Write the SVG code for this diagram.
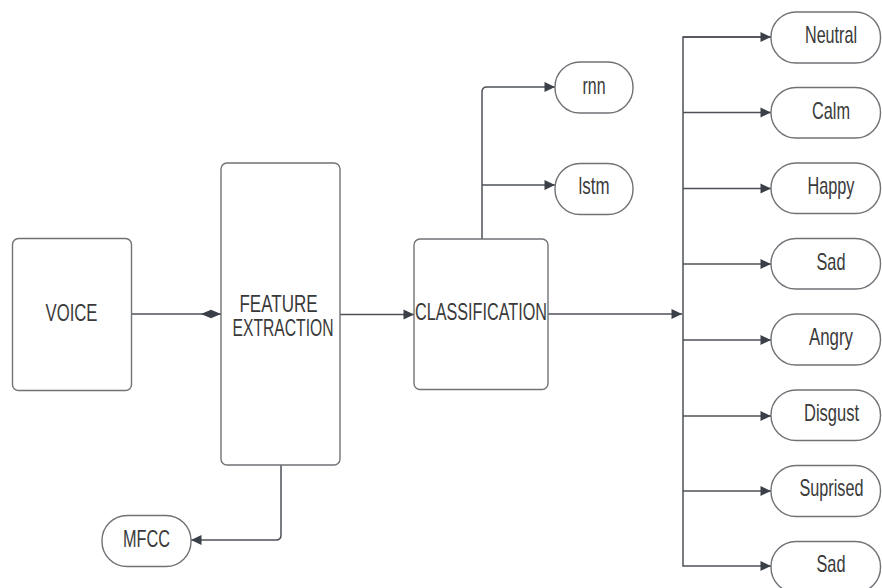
<svg xmlns="http://www.w3.org/2000/svg" width="882" height="588" viewBox="0 0 882 588">
  <defs>
    <marker id="arrow" markerUnits="userSpaceOnUse" markerWidth="13" markerHeight="13" viewBox="0 0 13 13" refX="12" refY="6.5" orient="auto">
      <path d="M1.5,1.5 L12,6.5 L1.5,11.5 Z" fill="#3b4048"/>
    </marker>
    <marker id="diamond" markerUnits="userSpaceOnUse" markerWidth="22" markerHeight="12" viewBox="0 0 22 12" refX="21" refY="6" orient="auto">
      <path d="M1,6 L11,1.8 L21,6 L11,10.2 Z" fill="#3b4048"/>
    </marker>
    <style>
      .box { fill: #ffffff; stroke: #6f7276; stroke-width: 1.4; }
      .pill { fill: #ffffff; stroke: #6f7276; stroke-width: 1.4; }
      .lbl { font-family: "Liberation Sans", Arial, sans-serif; font-size: 24px; fill: #3a3a3a; text-anchor: middle; }
      .wire { fill: none; stroke: #4d5157; stroke-width: 1.5; }
    </style>
  </defs>
  <rect width="882" height="588" fill="#ffffff"/>

  <!-- connectors -->
  <g id="connectors">
    <path class="wire" d="M131,314 H221" marker-end="url(#diamond)"/>
    <path class="wire" d="M340,314.5 H414" marker-end="url(#arrow)"/>
    <path class="wire" d="M482,239 V92 Q482,87 487,87 H555" marker-end="url(#arrow)"/>
    <path class="wire" d="M482,185 H555" marker-end="url(#arrow)"/>
    <path class="wire" d="M548,314 H682" marker-end="url(#arrow)"/>
    <path class="wire" d="M771,37 H683 V566 H771" marker-end="url(#arrow)"/>
    <path class="wire" d="M683,37 H771" marker-end="url(#arrow)"/>
    <path class="wire" d="M683,112.5 H771" marker-end="url(#arrow)"/>
    <path class="wire" d="M683,188.5 H771" marker-end="url(#arrow)"/>
    <path class="wire" d="M683,264 H771" marker-end="url(#arrow)"/>
    <path class="wire" d="M683,340 H771" marker-end="url(#arrow)"/>
    <path class="wire" d="M683,416 H771" marker-end="url(#arrow)"/>
    <path class="wire" d="M683,491 H771" marker-end="url(#arrow)"/>
    <path class="wire" d="M281,465 V535 Q281,540 276,540 H191" marker-end="url(#arrow)"/>
  </g>

  <g id="voice">
    <rect class="box" x="12.5" y="238.5" width="119" height="152" rx="6"/>
    <text class="lbl" x="71.5" y="321" textLength="52" lengthAdjust="spacingAndGlyphs">VOICE</text>
  </g>

  <g id="feature-extraction">
    <rect class="box" x="221" y="163" width="119" height="302" rx="6"/>
    <text class="lbl" x="278.5" y="311.5" textLength="78" lengthAdjust="spacingAndGlyphs">FEATURE</text>
    <text class="lbl" x="283" y="336" textLength="101" lengthAdjust="spacingAndGlyphs">EXTRACTION</text>
  </g>

  <g id="classification">
    <rect class="box" x="414" y="239" width="134" height="150.5" rx="6"/>
    <text class="lbl" x="481" y="320" textLength="132" lengthAdjust="spacingAndGlyphs">CLASSIFICATION</text>
  </g>

  <g id="rnn">
    <rect class="pill" x="555" y="62" width="78" height="51" rx="25"/>
    <text class="lbl" x="594" y="93.5" textLength="23" lengthAdjust="spacingAndGlyphs">rnn</text>
  </g>

  <g id="lstm">
    <rect class="pill" x="555" y="163.5" width="78" height="51" rx="25"/>
    <text class="lbl" x="594" y="193.5" textLength="31" lengthAdjust="spacingAndGlyphs">lstm</text>
  </g>

  <g id="mfcc">
    <rect class="pill" x="102" y="515.5" width="89" height="51" rx="25"/>
    <text class="lbl" x="146.5" y="547" textLength="47" lengthAdjust="spacingAndGlyphs">MFCC</text>
  </g>

  <g id="neutral">
    <rect class="pill" x="771" y="12" width="109.5" height="51" rx="25"/>
    <text class="lbl" x="831" y="42.5" textLength="52" lengthAdjust="spacingAndGlyphs">Neutral</text>
  </g>

  <g id="calm">
    <rect class="pill" x="771" y="87.5" width="109.5" height="50.5" rx="25"/>
    <text class="lbl" x="831" y="118.5" textLength="38" lengthAdjust="spacingAndGlyphs">Calm</text>
  </g>

  <g id="happy">
    <rect class="pill" x="771" y="163" width="109.5" height="50.5" rx="25"/>
    <text class="lbl" x="831" y="193.5" textLength="47" lengthAdjust="spacingAndGlyphs">Happy</text>
  </g>

  <g id="sad-1">
    <rect class="pill" x="771" y="238.5" width="109.5" height="50.5" rx="25"/>
    <text class="lbl" x="831" y="269.5" textLength="29" lengthAdjust="spacingAndGlyphs">Sad</text>
  </g>

  <g id="angry">
    <rect class="pill" x="771" y="314" width="109.5" height="51" rx="25"/>
    <text class="lbl" x="831" y="345" textLength="44" lengthAdjust="spacingAndGlyphs">Angry</text>
  </g>

  <g id="disgust">
    <rect class="pill" x="771" y="390" width="109.5" height="50.5" rx="25"/>
    <text class="lbl" x="831.5" y="421" textLength="55" lengthAdjust="spacingAndGlyphs">Disgust</text>
  </g>

  <g id="suprised">
    <rect class="pill" x="771" y="465.5" width="109.5" height="51" rx="25"/>
    <text class="lbl" x="831.5" y="496" textLength="64" lengthAdjust="spacingAndGlyphs">Suprised</text>
  </g>

  <g id="sad-2">
    <rect class="pill" x="771" y="541.5" width="109.5" height="51" rx="25"/>
    <text class="lbl" x="831" y="572" textLength="29" lengthAdjust="spacingAndGlyphs">Sad</text>
  </g>
</svg>
